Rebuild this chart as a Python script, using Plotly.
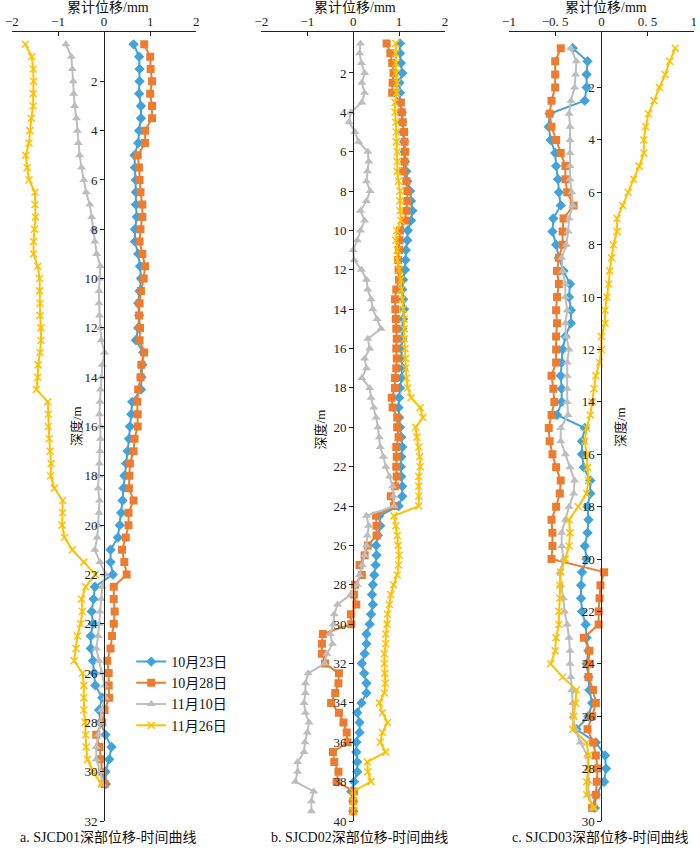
import plotly.graph_objects as go

# ---------------- data ----------------
depth_a = [0.5, 1.0, 1.5, 2.0, 2.5, 3.0, 3.5, 4.0, 4.5, 5.0, 5.5, 6.0, 6.5, 7.0, 7.5, 8.0, 8.5, 9.0, 9.5, 10.0,
           10.5, 11.0, 11.5, 12.0, 12.5, 13.0, 13.5, 14.0, 14.5, 15.0, 15.5, 16.0, 16.5, 17.0, 17.5, 18.0, 18.5, 19.0, 19.5, 20.0,
           20.5, 21.0, 21.5, 22.0, 22.5, 23.0, 23.5, 24.0, 24.5, 25.0, 25.5, 26.0, 26.5, 27.0, 27.5, 28.0, 28.5, 29.0, 29.5, 30.0,
           30.5]
a_1023 = [0.64, 0.76, 0.77, 0.77, 0.76, 0.80, 0.80, 0.76, 0.74, 0.66,
          0.67, 0.69, 0.69, 0.69, 0.71, 0.67, 0.67, 0.74, 0.78, 0.80,
          0.77, 0.74, 0.76, 0.74, 0.69, 0.85, 0.83, 0.81, 0.80, 0.61,
          0.59, 0.56, 0.54, 0.51, 0.48, 0.44, 0.42, 0.40, 0.37, 0.34,
          0.30, 0.14, 0.14, 0.19, -0.20, -0.23, -0.27, -0.24, -0.29, -0.29,
          -0.24, -0.22, -0.19, -0.04, -0.11, -0.08, 0.03, 0.16, 0.11, 0.03,
          0.04]
a_1028 = [0.87, 1.00, 1.01, 1.04, 1.00, 1.04, 1.04, 0.89, 0.89, 0.73,
          0.76, 0.77, 0.79, 0.83, 0.83, 0.79, 0.77, 0.83, 0.89, 0.86,
          0.80, 0.77, 0.76, 0.78, 0.77, 0.87, 0.81, 0.79, 0.74, 0.72,
          0.73, 0.73, 0.66, 0.64, 0.56, 0.55, 0.54, 0.64, 0.53, 0.53,
          0.47, 0.39, 0.44, 0.49, 0.21, 0.21, 0.23, 0.21, 0.17, 0.14,
          0.07, 0.10, 0.10, 0.11, 0.01, -0.04, -0.17, -0.10, -0.07, -0.04,
          0.01]
a_1110 = [-0.83, -0.71, -0.69, -0.67, -0.66, -0.64, -0.60, -0.58, -0.56, -0.53,
          -0.49, -0.44, -0.39, -0.31, -0.27, -0.23, -0.20, -0.16, -0.08, -0.10,
          -0.11, -0.11, -0.10, -0.08, -0.06, 0.01, -0.04, -0.06, -0.08, -0.09,
          -0.10, -0.08, -0.08, -0.09, -0.10, -0.11, -0.13, -0.10, -0.11, -0.13,
          -0.15, -0.20, -0.09, 0.03, -0.04, -0.06, -0.09, -0.10, -0.13, -0.17,
          -0.11, -0.06, 0.01, 0.03, -0.06, -0.08, -0.13, -0.17, -0.17, -0.08,
          -0.04]
a_1126 = [-1.71, -1.57, -1.54, -1.53, -1.54, -1.54, -1.58, -1.61, -1.63, -1.70,
          -1.67, -1.63, -1.50, -1.50, -1.49, -1.51, -1.53, -1.53, -1.44, -1.40,
          -1.40, -1.39, -1.39, -1.37, -1.37, -1.39, -1.43, -1.44, -1.47, -1.22,
          -1.21, -1.21, -1.19, -1.17, -1.15, -1.16, -1.08, -0.90, -0.90, -0.91,
          -0.86, -0.69, -0.44, -0.19, -0.40, -0.49, -0.47, -0.51, -0.58, -0.61,
          -0.65, -0.47, -0.44, -0.44, -0.44, -0.41, -0.40, -0.39, -0.36, -0.24,
          -0.06]

depth_b = [0.5, 1.0, 1.5, 2.0, 2.5, 3.0, 3.5, 4.0, 4.5, 5.0, 5.5, 6.0, 6.5, 7.0, 7.5, 8.0, 8.5, 9.0, 9.5, 10.0,
           10.5, 11.0, 11.5, 12.0, 12.5, 13.0, 13.5, 14.0, 14.5, 15.0, 15.5, 16.0, 16.5, 17.0, 17.5, 18.0, 18.5, 19.0, 19.5, 20.0,
           20.5, 21.0, 21.5, 22.0, 22.5, 23.0, 23.5, 24.0, 24.5, 25.0, 25.5, 26.0, 26.5, 27.0, 27.5, 28.0, 28.5, 29.0, 29.5, 30.0,
           30.5, 31.0, 31.5, 32.0, 32.5, 33.0, 33.5, 34.0, 34.5, 35.0, 35.5, 36.0, 36.5, 37.0, 37.5, 38.0, 38.5, 39.0, 39.5]
b_1023 = [1.02, 1.02, 1.04, 1.07, 1.01, 1.02, 1.02, 1.06, 1.07, 1.09,
          1.11, 1.12, 1.13, 1.16, 1.18, 1.24, 1.26, 1.29, 1.26, 1.19,
          1.18, 1.15, 1.14, 1.13, 1.09, 1.07, 1.09, 1.11, 1.09, 1.07,
          1.07, 1.05, 1.06, 1.08, 1.05, 1.02, 1.00, 0.99, 1.00, 1.02,
          1.05, 1.07, 1.05, 1.04, 1.05, 1.07, 1.07, 0.99, 0.57, 0.59,
          0.54, 0.50, 0.51, 0.49, 0.46, 0.43, 0.41, 0.43, 0.39, 0.36,
          0.29, 0.29, 0.25, 0.19, 0.24, 0.29, 0.29, 0.18, 0.09, 0.14,
          0.14, 0.07, 0.07, 0.09, 0.09, 0.02, -0.04, 0.00, 0.00]
b_1028 = [0.73, 0.81, 0.85, 0.88, 0.86, 0.85, 1.04, 1.06, 1.08, 1.11,
          1.12, 1.13, 1.12, 1.09, 1.16, 1.18, 1.18, 1.16, 1.13, 1.02,
          1.01, 1.00, 0.98, 0.99, 1.00, 0.94, 0.91, 0.92, 0.93, 0.94,
          0.95, 0.94, 0.95, 0.94, 0.91, 0.91, 0.84, 0.86, 0.96, 0.96,
          0.99, 0.94, 0.95, 0.94, 0.95, 0.91, 0.82, 0.89, 0.50, 0.51,
          0.51, 0.32, 0.25, 0.14, 0.19, 0.04, 0.02, 0.07, -0.05, -0.04,
          -0.66, -0.68, -0.68, -0.61, -0.31, -0.32, -0.39, -0.48, -0.31, -0.21,
          -0.14, -0.12, -0.44, -0.41, -0.32, -0.36, 0.02, 0.00, 0.00]
b_1110 = [0.16, 0.14, 0.18, 0.25, 0.19, 0.25, 0.19, -0.05, -0.09, 0.04,
          0.12, 0.32, 0.34, 0.31, 0.29, 0.37, 0.29, 0.16, 0.25, 0.16,
          0.09, 0.00, 0.02, 0.18, 0.29, 0.32, 0.39, 0.43, 0.52, 0.61,
          0.32, 0.36, 0.25, 0.29, 0.19, 0.36, 0.39, 0.45, 0.50, 0.54,
          0.57, 0.59, 0.66, 0.71, 0.79, 0.86, 0.88, 0.89, 0.29, 0.34,
          0.31, 0.29, 0.25, 0.20, 0.14, 0.09, -0.05, -0.34, -0.41, -0.43,
          -0.50, -0.45, -0.57, -0.62, -0.98, -1.04, -1.04, -1.07, -1.04, -0.96,
          -1.00, -1.05, -1.07, -1.21, -1.21, -1.26, -0.86, -0.91, -0.91]
b_1126 = [0.93, 0.93, 0.93, 0.93, 0.96, 0.95, 0.91, 0.91, 0.93, 0.94,
          0.94, 0.96, 0.96, 0.96, 0.99, 1.02, 1.02, 1.02, 1.04, 0.95,
          0.93, 0.96, 0.96, 1.00, 1.04, 1.05, 1.07, 1.09, 1.11, 1.11,
          1.12, 1.13, 1.14, 1.14, 1.16, 1.19, 1.26, 1.46, 1.52, 1.36,
          1.39, 1.43, 1.45, 1.46, 1.43, 1.43, 1.43, 1.43, 0.89, 0.93,
          0.96, 0.98, 1.00, 0.99, 0.96, 0.88, 0.82, 0.79, 0.75, 0.74,
          0.71, 0.71, 0.68, 0.68, 0.69, 0.70, 0.68, 0.57, 0.64, 0.75,
          0.64, 0.59, 0.71, 0.31, 0.32, 0.39, 0.00, 0.00, 0.00]

depth_c = [0.5, 1.0, 1.5, 2.0, 2.5, 3.0, 3.5, 4.0, 4.5, 5.0, 5.5, 6.0, 6.5, 7.0, 7.5, 8.0, 8.5, 9.0, 9.5, 10.0,
           10.5, 11.0, 11.5, 12.0, 12.5, 13.0, 13.5, 14.0, 14.5, 15.0, 15.5, 16.0, 16.5, 17.0, 17.5, 18.0, 18.5, 19.0, 19.5, 20.0,
           20.5, 21.0, 21.5, 22.0, 22.5, 23.0, 23.5, 24.0, 24.5, 25.0, 25.5, 26.0, 26.5, 27.0, 27.5, 28.0, 28.5, 29.0, 29.5]
c_1023 = [-0.31, -0.15, -0.16, -0.16, -0.18, -0.56, -0.57, -0.55, -0.50, -0.49,
          -0.47, -0.46, -0.44, -0.52, -0.53, -0.49, -0.46, -0.41, -0.34, -0.35,
          -0.33, -0.33, -0.39, -0.42, -0.43, -0.44, -0.43, -0.43, -0.48, -0.18,
          -0.21, -0.21, -0.19, -0.12, -0.12, -0.15, -0.14, -0.15, -0.18, -0.16,
          -0.21, -0.22, -0.22, -0.21, -0.17, -0.16, -0.14, -0.16, -0.14, -0.13,
          -0.10, -0.14, -0.27, -0.06, 0.04, 0.05, 0.03, -0.06, -0.07]
c_1028 = [-0.44, -0.50, -0.50, -0.50, -0.54, -0.56, -0.54, -0.49, -0.44, -0.39,
          -0.39, -0.37, -0.30, -0.41, -0.42, -0.42, -0.46, -0.48, -0.46, -0.48,
          -0.49, -0.48, -0.49, -0.49, -0.49, -0.54, -0.52, -0.51, -0.54, -0.57,
          -0.56, -0.53, -0.49, -0.44, -0.45, -0.49, -0.54, -0.53, -0.53, -0.54,
          0.03, -0.01, -0.02, -0.03, -0.03, -0.19, -0.13, -0.14, -0.14, -0.09,
          -0.06, -0.10, -0.15, -0.09, -0.06, -0.04, -0.05, -0.06, -0.10]
c_1110 = [-0.33, -0.27, -0.28, -0.29, -0.33, -0.35, -0.34, -0.34, -0.34, -0.34,
          -0.34, -0.32, -0.31, -0.35, -0.36, -0.38, -0.43, -0.42, -0.39, -0.39,
          -0.37, -0.39, -0.38, -0.35, -0.37, -0.37, -0.37, -0.37, -0.36, -0.44,
          -0.44, -0.39, -0.34, -0.29, -0.30, -0.35, -0.39, -0.43, -0.43, -0.41,
          -0.45, -0.44, -0.41, -0.40, -0.37, -0.35, -0.34, -0.34, -0.33, -0.32,
          -0.31, -0.31, -0.28, -0.23, -0.15, -0.14, -0.14, -0.14, -0.09]
c_1126 = [0.80, 0.74, 0.69, 0.63, 0.57, 0.51, 0.48, 0.46, 0.46, 0.41,
          0.35, 0.29, 0.23, 0.17, 0.17, 0.13, 0.11, 0.09, 0.08, 0.06,
          0.04, 0.04, 0.00, 0.00, -0.02, -0.06, -0.08, -0.10, -0.12, -0.16,
          -0.18, -0.16, -0.15, -0.14, -0.16, -0.25, -0.35, -0.34, -0.35, -0.39,
          -0.44, -0.45, -0.45, -0.46, -0.46, -0.49, -0.50, -0.55, -0.42, -0.27,
          -0.28, -0.30, -0.31, -0.16, -0.14, -0.14, -0.16, -0.16, -0.08]

series_names = ["10月23日", "10月28日", "11月10日", "11月26日"]
captions = ["a. SJCD01深部位移-时间曲线", "b. SJCD02深部位移-时间曲线", "c. SJCD03深部位移-时间曲线"]
x_title = "累计位移/mm"
y_title = "深度/m"
xticks_ab = [-2, -1, 0, 1, 2]
xticklabels_ab = ["−2", "−1", "0", "1", "2"]
xticks_c = [-1, -0.5, 0, 0.5, 1]
xticklabels_c = ["−1", "−0. 5", "0", "0. 5", "1"]
yticks_a = [2, 4, 6, 8, 10, 12, 14, 16, 18, 20, 22, 24, 26, 28, 30, 32]
yticks_b = [2, 4, 6, 8, 10, 12, 14, 16, 18, 20, 22, 24, 26, 28, 30, 32, 34, 36, 38, 40]
yticks_c = [2, 4, 6, 8, 10, 12, 14, 16, 18, 20, 22, 24, 26, 28, 30]

# ---------------- styling ----------------
W, H = 700, 848
FONT = "Liberation Serif, Times New Roman, Noto Sans CJK SC, serif"
colors = ["#41A3DA", "#EC7C30", "#BDBDBD", "#FFC000"]
markers = [
    dict(symbol="diamond", size=8),
    dict(symbol="square", size=8),
    dict(symbol="triangle-up", size=8),
    dict(symbol="x-thin", size=7),
]

fig = go.Figure()

panels = [
    (depth_a, [a_1023, a_1028, a_1110, a_1126], "x", "y"),
    (depth_b, [b_1023, b_1028, b_1110, b_1126], "x2", "y2"),
    (depth_c, [c_1023, c_1028, c_1110, c_1126], "x3", "y3"),
]
for pi, (dep, sers, xa, ya) in enumerate(panels):
    for si, vals in enumerate(sers):
        m = dict(markers[si])
        m["color"] = colors[si]
        if m["symbol"] == "x-thin":
            m["line"] = dict(color=colors[si], width=1.5)
        fig.add_trace(go.Scatter(
            x=vals, y=dep, mode="lines+markers", name=series_names[si],
            line=dict(color=colors[si], width=2), marker=m,
            xaxis=xa, yaxis=ya, showlegend=(pi == 0), legendgroup="g%d" % si,
        ))

# geometry in reference-image pixels
top_px, bot_px = 32, 821
xdom_px = [(5, 192), (258, 444.3), (509.3, 696.7)]
xranges = [[-2, 2], [-2, 2], [-1, 1]]
yranges = [[32, 0], [40, -0.08], [30, -0.12]]
PH = bot_px - top_px

def px_x(p):
    return p / W

def px_y(p):
    return (bot_px - p) / PH

axis_common = dict(showgrid=False, zeroline=False, showline=True, linecolor="#222",
                   linewidth=1, tickfont=dict(family=FONT, size=13, color="#222"),
                   tickcolor="#222")
layout = {}
for i in range(3):
    sfx = "" if i == 0 else str(i + 1)
    d0, d1 = xdom_px[i]
    dom = [px_x(d0), px_x(d1)]
    xr = xranges[i]
    zero_pos = dom[0] + (0 - xr[0]) / (xr[1] - xr[0]) * (dom[1] - dom[0])
    layout["xaxis" + sfx] = dict(
        axis_common, domain=dom, range=xr, side="top", anchor="y" + sfx,
        ticks="inside", ticklen=4,
        tickvals=xticks_c if i == 2 else xticks_ab,
        ticktext=xticklabels_c if i == 2 else xticklabels_ab,
    )
    yt = [yticks_a, yticks_b, yticks_c][i]
    layout["yaxis" + sfx] = dict(
        axis_common, domain=[0, 1], range=yranges[i], anchor="free",
        position=zero_pos, ticks="outside", ticklen=4,
        tickvals=yt, ticktext=[str(v) for v in yt],
    )

fig.update_layout(**layout)

ann = []
caption_x_px = [103, 358, 602]
title_x_px = [102, 353, 608]
ylab_px = [(70, 426), (318, 429), (622, 427)]
for i in range(3):
    ann.append(dict(text=captions[i], x=px_x(caption_x_px[i]), y=px_y(838),
                    xref="paper", yref="paper", showarrow=False, xanchor="center", yanchor="middle",
                    font=dict(family=FONT, size=14, color="#111")))
    ann.append(dict(text=x_title, x=px_x(title_x_px[i]), y=px_y(8),
                    xref="paper", yref="paper", showarrow=False, xanchor="center", yanchor="middle",
                    font=dict(family=FONT, size=14, color="#111")))
    xp, yp = ylab_px[i]
    ann.append(dict(text=y_title, x=px_x(xp), y=px_y(yp), textangle=-90,
                    xref="paper", yref="paper", showarrow=False, xanchor="center", yanchor="middle",
                    font=dict(family=FONT, size=13, color="#111")))

fig.update_layout(
    width=W, height=H,
    margin=dict(l=0, r=0, t=top_px, b=H - bot_px, pad=0),
    paper_bgcolor="white", plot_bgcolor="white",
    font=dict(family=FONT, size=13, color="#111"),
    annotations=ann,
    legend=dict(x=px_x(126), y=px_y(646), xanchor="left", yanchor="top",
                bgcolor="rgba(0,0,0,0)", font=dict(family=FONT, size=14, color="#111"),
                itemwidth=30, tracegroupgap=0),
)

fig.write_html("out.html", config={"displayModeBar": False},
               post_script="document.body.style.margin='0px';document.body.style.overflow='hidden';")
